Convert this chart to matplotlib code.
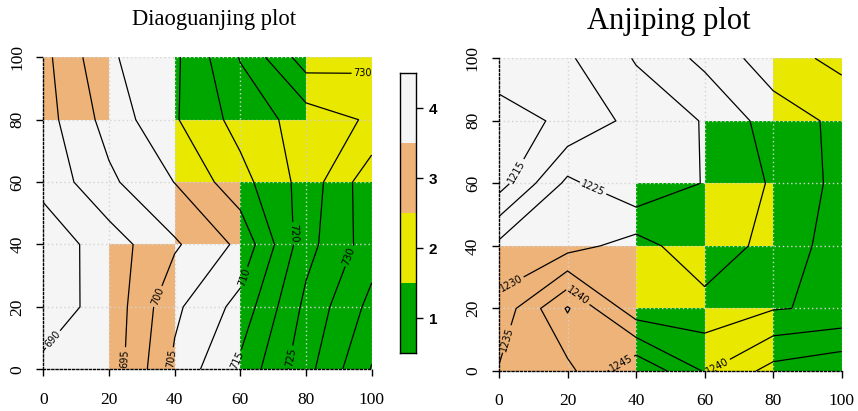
import numpy as np
import matplotlib
matplotlib.use("Agg")
import matplotlib.pyplot as plt
from matplotlib.colors import ListedColormap, BoundaryNorm

# ---------------- data ----------------
node_pos = [0, 20, 40, 60, 80, 100]          # grid nodes (x and y)
cell_edges = [0, 20, 40, 60, 80, 100]        # class cell edges
tick_vals = [0, 20, 40, 60, 80, 100]

# Diaoguanjing elevation at nodes (rows: y = 0..100, cols: x = 0..100)
diao_elev = [
    [690.8, 691.6, 706.0, 716.2, 728.3, 740.3],
    [688.1, 691.5, 704.0, 711.7, 726.3, 736.5],
    [686.9, 692.5, 699.3, 706.1, 723.2, 732.6],
    [691.5, 699.0, 705.1, 713.2, 722.0, 733.3],
    [692.9, 701.9, 709.5, 716.9, 722.2, 725.7],
    [693.5, 704.3, 709.0, 720.3, 732.6, 731.5],
]
# Diaoguanjing class per 20x20 cell (rows: y 0-20 .. 80-100)
diao_class = [
    [4, 3, 4, 1, 1],
    [4, 3, 4, 1, 1],
    [4, 4, 3, 1, 1],
    [4, 4, 2, 2, 2],
    [3, 4, 1, 1, 2],
]
diao_levels = [690, 695, 700, 705, 710, 715, 720, 725, 730, 735, 740]
diao_label_pts = [(2.6, 9.9), (24.9, 3.5), (35, 23.3), (39.1, 3.5), (62.5, 29),
                  (58.9, 3), (75.4, 43.6), (75.4, 4), (93.6, 36.1), (97.3, 95.7)]

# Anjiping elevation at nodes
anji_elev = [
    [1235.4, 1238.6, 1249.5, 1239.6, 1246.8, 1249.2],
    [1231.5, 1245.5, 1231.8, 1232.0, 1234.7, 1235.8],
    [1226.3, 1228.0, 1232.2, 1226.3, 1232.1, 1237.2],
    [1212.9, 1226.2, 1220.6, 1225.3, 1230.6, 1236.6],
    [1213.5, 1215.7, 1221.8, 1225.3, 1232.4, 1236.2],
    [1217.0, 1219.3, 1225.4, 1231.3, 1237.8, 1241.4],
]
anji_class = [
    [3, 3, 1, 2, 1],
    [3, 3, 2, 1, 1],
    [4, 4, 1, 2, 1],
    [4, 4, 4, 1, 1],
    [4, 4, 4, 4, 2],
]
anji_levels = [1215, 1220, 1225, 1230, 1235, 1240, 1245]
anji_label_pts = [(6.1, 63.2), (27, 57.4), (3.7, 27.5), (1.8, 10.4),
                  (22.2, 22.7), (36.3, 1.4), (64, 0.9)]

class_values = [1, 2, 3, 4]
class_colors = ["#00A600", "#E8E800", "#EEB378", "#F5F5F5"]

# ---------------- figure ----------------
W, H = 858, 411
fig = plt.figure(figsize=(W / 100, H / 100), dpi=100)

cmap = ListedColormap(class_colors)
norm = BoundaryNorm([0.5, 1.5, 2.5, 3.5, 4.5], cmap.N)
serif = "Liberation Serif"


def px_axes(x0, y0, x1, y1):
    return fig.add_axes([x0 / W, 1 - y1 / H, (x1 - x0) / W, (y1 - y0) / H])


def panel(ax, elev, cls, levels, label_pts):
    ax.pcolormesh(cell_edges, cell_edges, np.array(cls), cmap=cmap, norm=norm,
                  shading="flat", zorder=1)
    for g in tick_vals[1:]:
        ax.axvline(g, color="#D3D3D3", lw=1.0, ls=(0, (1, 2)), zorder=2)
        ax.axhline(g, color="#D3D3D3", lw=1.0, ls=(0, (1, 2)), zorder=2)
    cs = ax.contour(node_pos, node_pos, np.array(elev), levels=levels,
                    colors="black", linewidths=0.9, zorder=3)
    ax.clabel(cs, levels, inline=True, inline_spacing=2, fontsize=7,
              fmt="%d", manual=label_pts)
    ax.set_xlim(0, 100)
    ax.set_ylim(0, 100)
    ax.set_xticks(tick_vals)
    ax.set_yticks(tick_vals)
    for s in ("top", "right"):
        ax.spines[s].set_visible(False)
    for s in ("left", "bottom"):
        ax.spines[s].set_linestyle((0, (1.5, 1.5)))
        ax.spines[s].set_linewidth(1.0)
        ax.spines[s].set_zorder(5)
    ax.tick_params(axis="x", length=5, width=1, pad=11, labelsize=12.5)
    ax.tick_params(axis="y", length=5, width=1, pad=8, labelsize=12.5)
    for t in ax.get_xticklabels():
        t.set_fontfamily(serif)
    for t in ax.get_yticklabels():
        t.set_fontfamily(serif)
        t.set_rotation(90)
        t.set_verticalalignment("center")


ax1 = px_axes(43.3, 57.3, 371.7, 369.3)
panel(ax1, diao_elev, diao_class, diao_levels, diao_label_pts)

ax2 = px_axes(499, 58.3, 841.7, 371)
panel(ax2, anji_elev, anji_class, anji_levels, anji_label_pts)

fig.text(214 / W, 1 - 20 / H, "Diaoguanjing plot", family=serif, fontsize=16.3,
         ha="center", va="center")
fig.text(669 / W, 1 - 22 / H, "Anjiping plot", family=serif, fontsize=22,
         ha="center", va="center")

# colour key
cax = px_axes(400, 73, 416.5, 353)
cax.pcolormesh([0, 1], [0.5, 1.5, 2.5, 3.5, 4.5],
               np.array(class_values).reshape(-1, 1), cmap=cmap, norm=norm)
cax.set_xlim(0, 1)
cax.set_ylim(0.5, 4.5)
cax.set_xticks([])
cax.yaxis.tick_right()
cax.set_yticks(class_values)
cax.set_yticklabels([str(v) for v in class_values], family="Liberation Sans",
                    fontweight="bold", fontsize=11)
cax.tick_params(axis="y", length=5, width=1, pad=4)
for s in cax.spines.values():
    s.set_linewidth(1.0)

fig.savefig("out.png", dpi=100)
